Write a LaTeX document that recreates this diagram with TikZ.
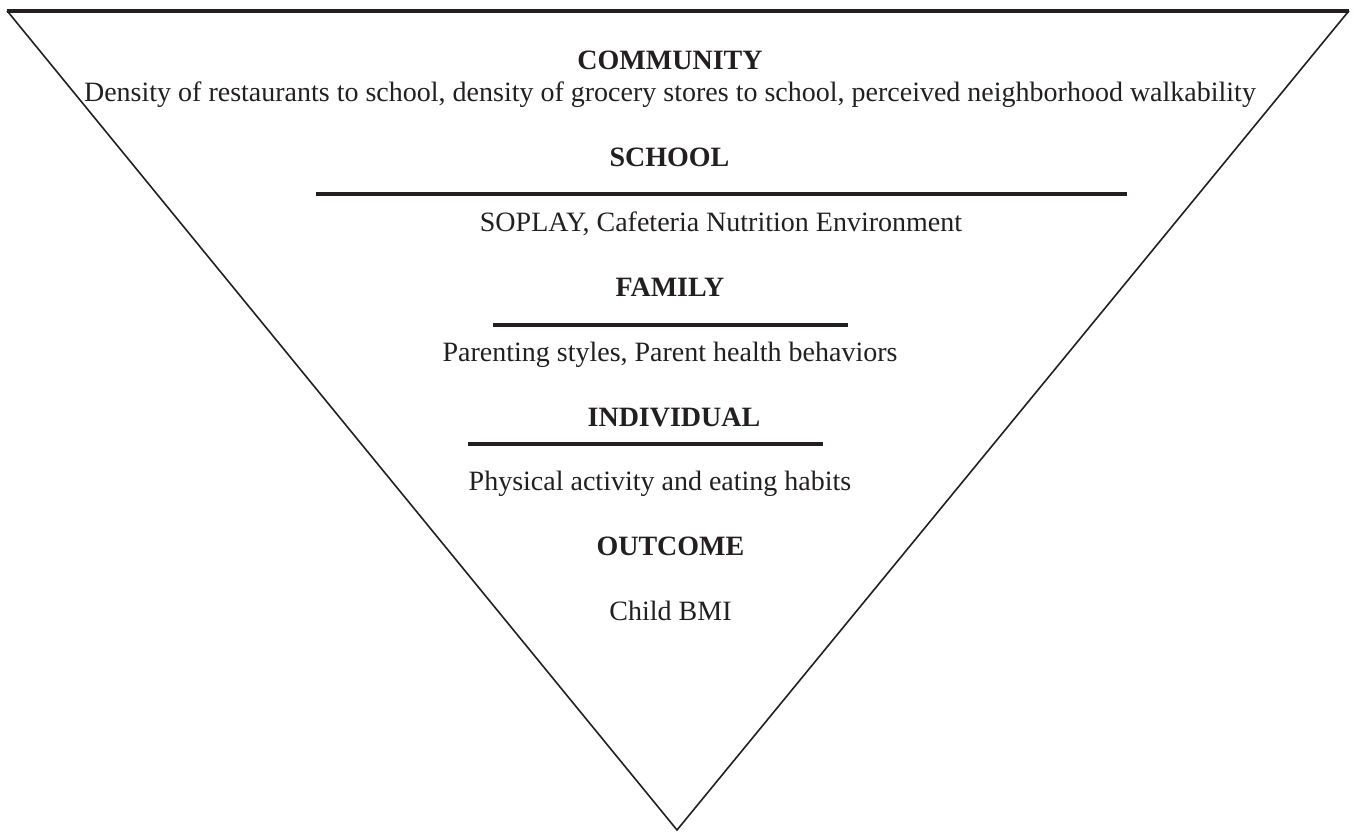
\documentclass[tikz,border=0pt]{standalone}
\usepackage{fontspec}
\setmainfont{Liberation Serif}
\begin{document}
\definecolor{ink}{RGB}{35,31,32}
\begin{tikzpicture}[x=1pt,y=-1pt,
  every node/.style={inner sep=0pt,outer sep=0pt,anchor=base,text=ink,font=\fontsize{28}{32}\selectfont},
  level/.style={font=\fontsize{28}{32}\selectfont\bfseries},
  side/.style={draw=ink,line width=1.6pt,line join=miter},
  rim/.style={draw=ink,line width=4pt,line cap=butt},
  divider/.style={draw=ink,line width=4pt,line cap=butt}]
\useasboundingbox (0,0) rectangle (1357,833);

% inverted triangle
\coordinate (tl) at (7,10.7);
\coordinate (tr) at (1349,10.7);
\coordinate (apex) at (677,830);
\draw[side] (tl) -- (apex) -- (tr);
\draw[rim] (tl) -- (tr);

% levels and their measures
\node[level] (community) at (670,69.3) {COMMUNITY};
\node (communityM) at (670,101) {Density of restaurants to school, density of grocery stores to school, perceived neighborhood walkability};

\node[level] (school) at (669.5,166.5) {SCHOOL};
\draw[divider] (316,194) -- (1127,194);
\node (schoolM) at (721,231) {SOPLAY, Cafeteria Nutrition Environment};

\node[level] (family) at (670,296) {FAMILY};
\draw[divider] (493,324.7) -- (848,324.7);
\node (familyM) at (670,361) {Parenting styles, Parent health behaviors};

\node[level] (individual) at (674,426) {INDIVIDUAL};
\draw[divider] (468,444) -- (823,444);
\node (individualM) at (660,490) {Physical activity and eating habits};

\node[level] (outcome) at (670.4,555.7) {OUTCOME};
\node (outcomeM) at (670.5,620) {Child BMI};
\end{tikzpicture}
\end{document}
